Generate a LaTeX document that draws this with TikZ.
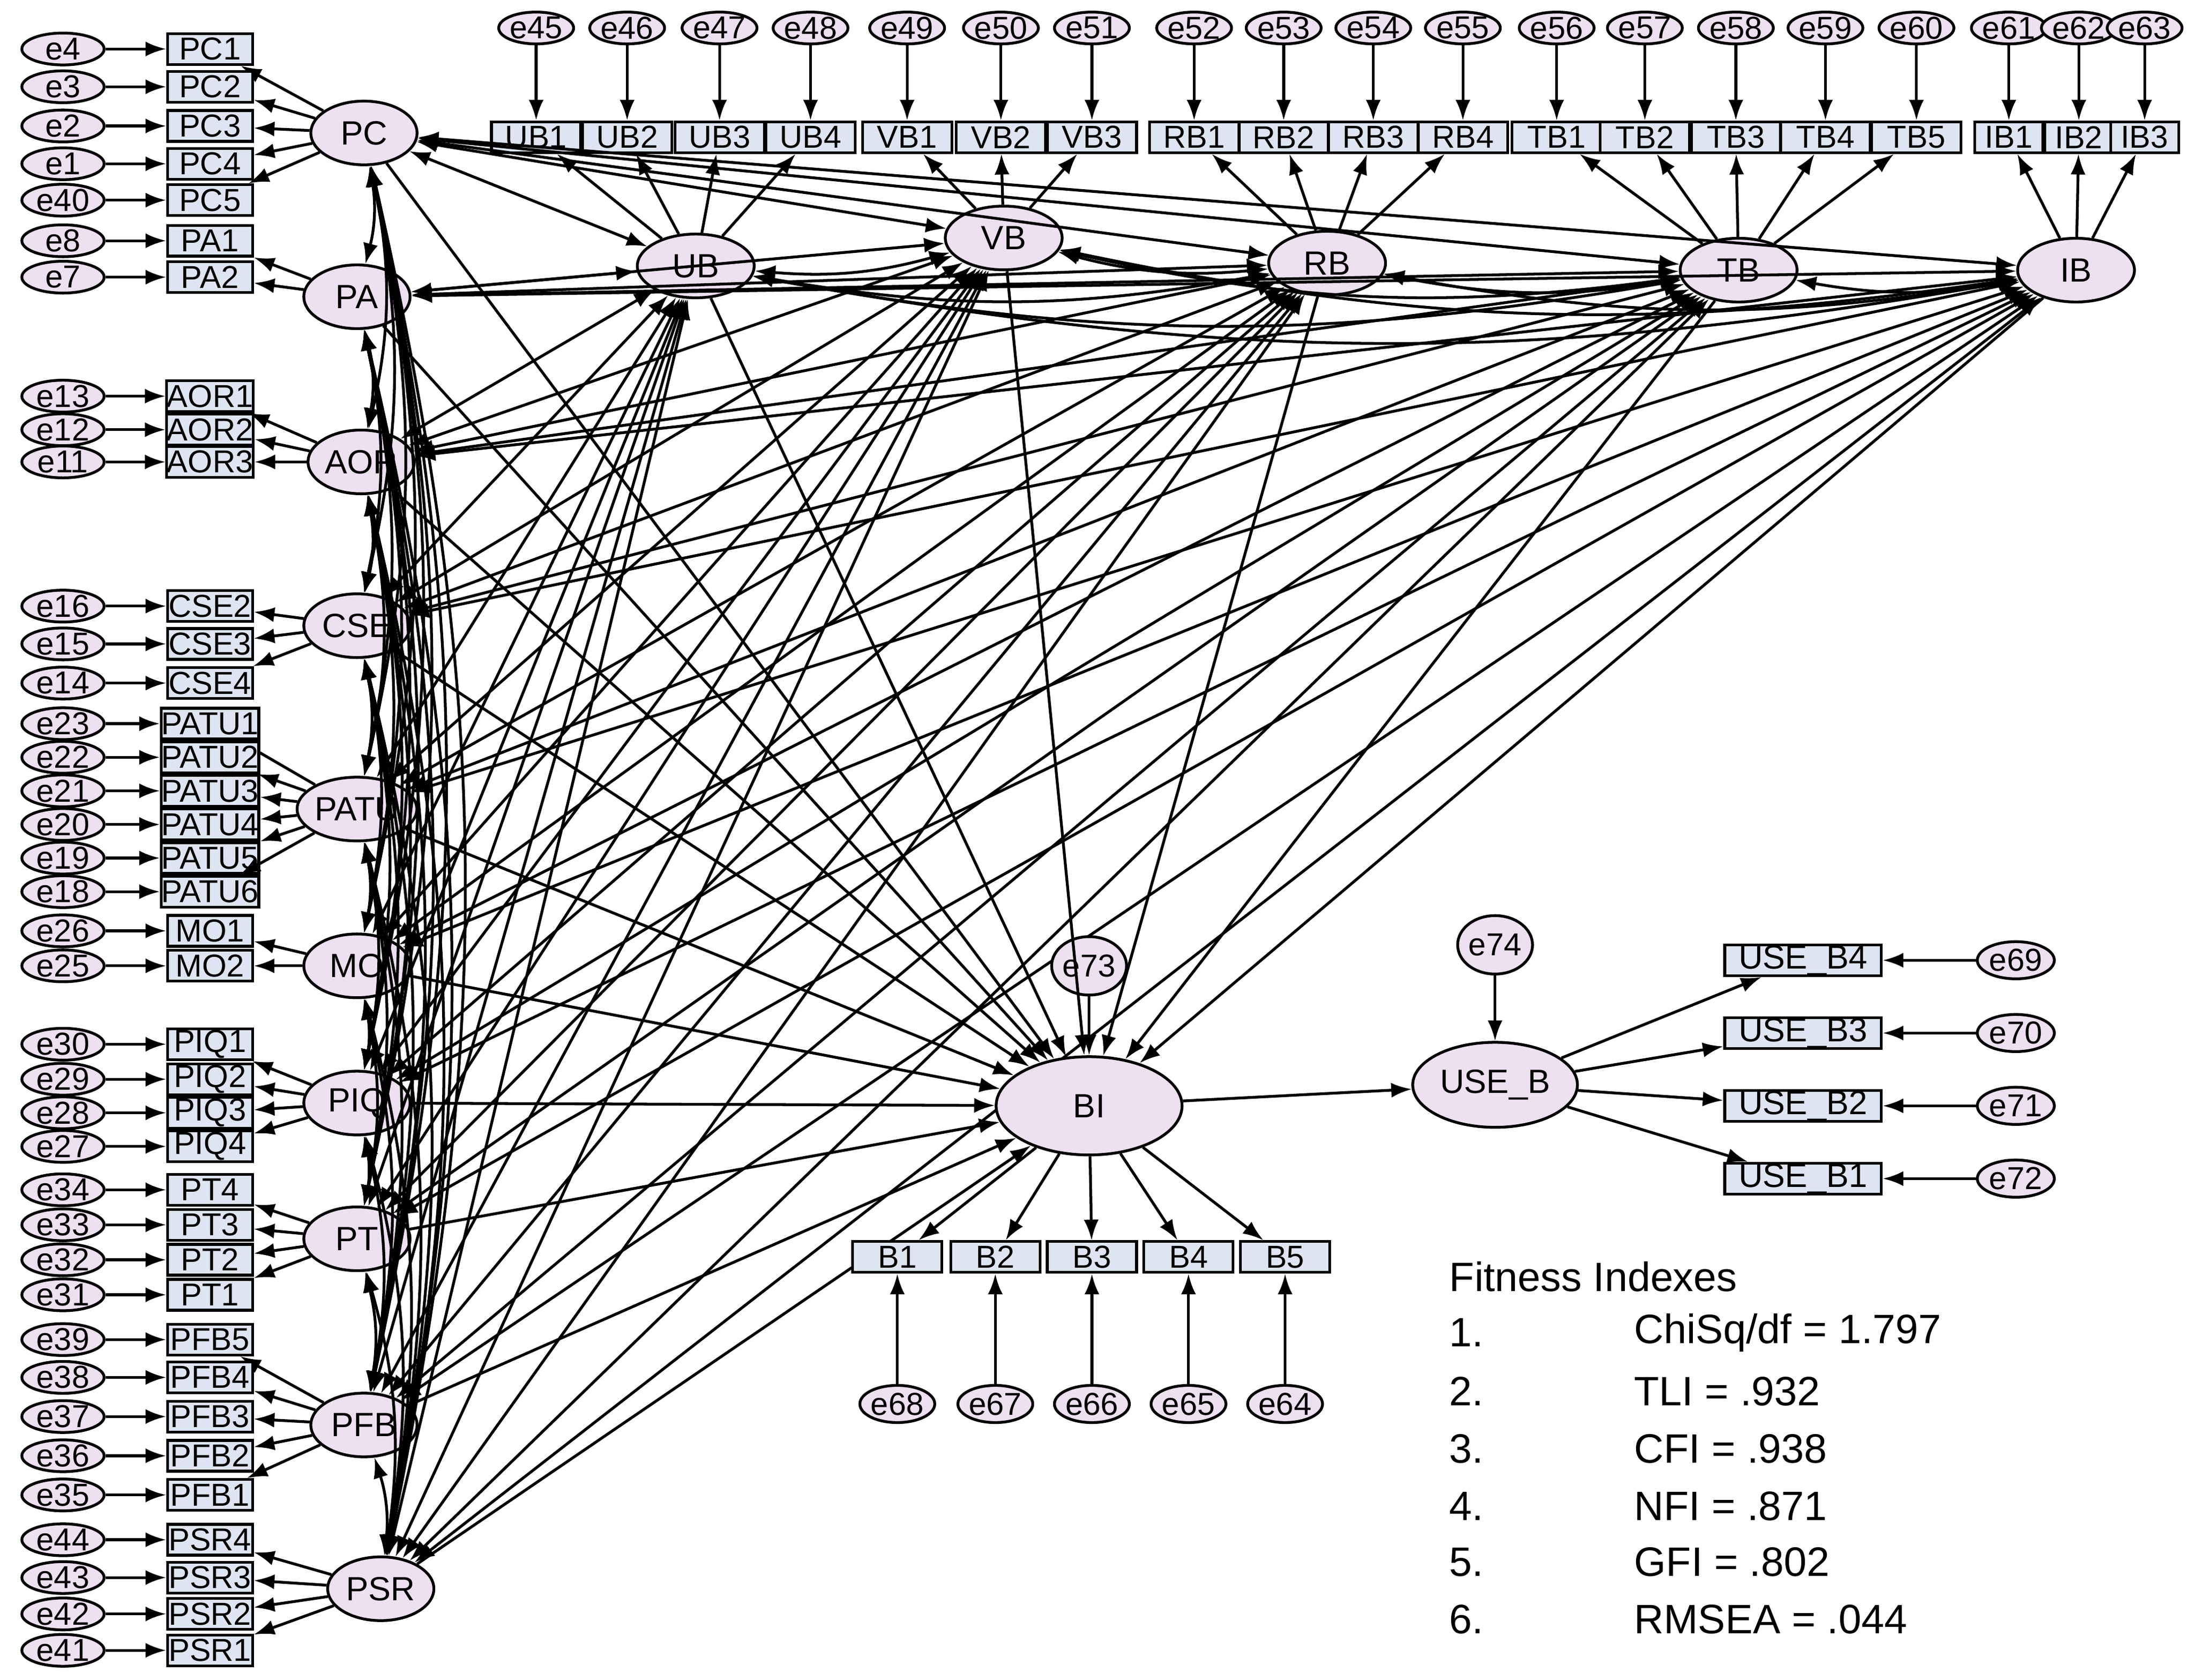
\documentclass[tikz,border=0pt]{standalone}
\usepackage{fontspec}
\setmainfont{Liberation Sans}
\usetikzlibrary{arrows.meta,shapes.geometric}
\definecolor{latf}{rgb}{0.93,0.88,0.94}
\definecolor{indf}{rgb}{0.87,0.90,0.95}
\begin{document}
\begin{tikzpicture}[x=0.02635cm,y=-0.02635cm,
  every path/.style={line width=1.5pt},
  >={Latex[length=11pt,width=8pt]},
  lat/.style={ellipse,draw,fill=latf,minimum width=2.1cm,minimum height=1.2cm,inner sep=0pt,font=\fontsize{18}{18}\selectfont},
  err/.style={ellipse,draw,fill=latf,minimum width=1.55cm,minimum height=0.6cm,inner sep=0pt,font=\fontsize{17}{17}\selectfont},
  ind/.style={rectangle,draw,fill=indf,minimum width=1.6cm,minimum height=0.58cm,inner sep=0pt,font=\fontsize{17}{17}\selectfont},
  cov/.style={<->}]
\useasboundingbox (0,0) rectangle (1568,1200);
% left latents
\foreach \n/\x/\y in {PC/260/95,PA/255/212,AOR/258/330,CSE/255/447,PATU/255/578,MO/255/690,PIQ/255/788,PT/255/885,PFB/260/1018,PSR/272/1135}
  \node[lat,minimum width=2.0cm] (\n) at (\x,\y) {\n};
% top latents
\foreach \n/\x/\y in {UB/497/190,VB/717/170,RB/948/188,TB/1242/193,IB/1483/193}
  \node[lat,minimum width=2.2cm] (\n) at (\x,\y) {\n};
% left indicators
\foreach \l/\n/\y/\e in {PC/PC1/35/e4,PC/PC2/62/e3,PC/PC3/90/e2,PC/PC4/117/e1,PC/PC5/143/e40,
 PA/PA1/172/e8,PA/PA2/198/e7,AOR/AOR1/283/e13,AOR/AOR2/307/e12,AOR/AOR3/330/e11,
 CSE/CSE2/433/e16,CSE/CSE3/460/e15,CSE/CSE4/488/e14,
 PATU/PATU1/517/e23,PATU/PATU2/541/e22,PATU/PATU3/565/e21,PATU/PATU4/589/e20,PATU/PATU5/613/e19,PATU/PATU6/637/e18,
 MO/MO1/665/e26,MO/MO2/690/e25,
 PIQ/PIQ1/746/e30,PIQ/PIQ2/771/e29,PIQ/PIQ3/795/e28,PIQ/PIQ4/819/e27,
 PT/PT4/850/e34,PT/PT3/875/e33,PT/PT2/900/e32,PT/PT1/925/e31,
 PFB/PFB5/957/e39,PFB/PFB4/984/e38,PFB/PFB3/1012/e37,PFB/PFB2/1040/e36,PFB/PFB1/1068/e35,
 PSR/PSR4/1100/e44,PSR/PSR3/1127/e43,PSR/PSR2/1153/e42,PSR/PSR1/1179/e41}{
  \node[ind] (\n) at (150,\y) {\n};
  \node[err] (\e) at (45,\y) {\e};
  \draw[->] (\e) -- (\n);
  \draw[->] (\l) -- (\n);
}
% top indicators
\foreach \l/\n/\x/\e in {UB/UB1/383/e45,UB/UB2/448/e46,UB/UB3/514/e47,UB/UB4/579/e48,
 VB/VB1/648/e49,VB/VB2/715/e50,VB/VB3/780/e51,
 RB/RB1/853/e52,RB/RB2/917/e53,RB/RB3/981/e54,RB/RB4/1045/e55,
 TB/TB1/1112/e56,TB/TB2/1175/e57,TB/TB3/1240/e58,TB/TB4/1304/e59,TB/TB5/1369/e60}{
  \node[ind,minimum width=1.68cm] (\n) at (\x,98) {\n};
  \node[err,minimum width=1.2cm] (\e) at (\x,20) {\e};
  \draw[->] (\e) -- (\n);
  \draw[->] (\l) -- (\n);
}
\foreach \l/\n/\x/\e in {IB/IB1/1435/e61,IB/IB2/1485/e62,IB/IB3/1532/e63}{
  \node[ind,minimum width=1.28cm] (\n) at (\x,98) {\n};
  \node[err,minimum width=1.2cm] (\e) at (\x,20) {\e};
  \draw[->] (\e) -- (\n);
  \draw[->] (\l) -- (\n);
}
% covariances left-left
\foreach \a [count=\i] in {PC,PA,AOR,CSE,PATU,MO,PIQ,PT,PFB,PSR}{
 \foreach \b [count=\j] in {PC,PA,AOR,CSE,PATU,MO,PIQ,PT,PFB,PSR}{
  \ifnum\j>\i \draw[cov] (\a) to[bend left=12] (\b); \fi
 }}
% top-top
\foreach \a [count=\i] in {UB,VB,RB,TB,IB}{
 \foreach \b [count=\j] in {UB,VB,RB,TB,IB}{
  \ifnum\j>\i \draw[cov] (\a) to[bend right=10] (\b); \fi
 }}
% left-top
\foreach \a in {PC,PA,AOR,CSE,PATU,MO,PIQ,PT,PFB,PSR}{
 \foreach \b in {UB,VB,RB,TB,IB}{ \draw[cov] (\a) -- (\b); }}
% BI
\node[lat,minimum width=3.5cm,minimum height=1.85cm] (BI) at (778,790) {BI};
\node[err,minimum width=1.0cm,minimum height=1.1cm] (e73) at (778,690) {e73};
\draw[->] (e73) -- (BI);
\foreach \a in {PC,PA,AOR,CSE,PATU,MO,PIQ,PT,PFB,PSR,UB,VB,RB,TB,IB}
  \draw[->] (\a) -- (BI);
\foreach \n/\x/\e in {B1/641/e68,B2/711/e67,B3/780/e66,B4/849/e65,B5/918/e64}{
  \node[ind,minimum width=1.68cm] (\n) at (\x,898) {\n};
  \node[err,minimum width=1.28cm,minimum height=0.7cm] (\e) at (\x,1003) {\e};
  \draw[->] (BI) -- (\n);
  \draw[->] (\e) -- (\n);
}
% USE_B
\node[lat,minimum width=3.1cm,minimum height=1.6cm] (USEB) at (1068,775) {USE\_B};
\node[err,minimum width=1.2cm,minimum height=1.1cm] (e74) at (1068,675) {e74};
\draw[->] (e74) -- (USEB);
\draw[->] (BI) -- (USEB);
\foreach \n/\y/\e in {4/686/e69,3/738/e70,2/790/e71,1/842/e72}{
  \node[ind,minimum width=2.95cm,font=\fontsize{18}{18}\selectfont] (UB\n x) at (1288,\y) {USE\_B\n};
  \node[err,minimum width=1.45cm,minimum height=0.7cm] (\e) at (1440,\y) {\e};
  \draw[->] (USEB) -- (UB\n x);
  \draw[->] (\e) -- (UB\n x);
}
% fitness
\node[anchor=west,font=\fontsize{22}{22}\selectfont] (fit) at (1030,912) {Fitness Indexes};
\foreach \k/\t/\y in {1/{ChiSq/df = 1.797}/952,2/{TLI = .932}/994,3/{CFI = .938}/1035,4/{NFI = .871}/1076,5/{GFI = .802}/1116,6/{RMSEA = .044}/1157}{
  \node[anchor=west,font=\fontsize{22}{22}\selectfont] (n\k) at (1030,\y) {\k.};
  \node[anchor=west,font=\fontsize{22}{22}\selectfont] (t\k) at (1162,\y) {\t};
}
\end{tikzpicture}
\end{document}
